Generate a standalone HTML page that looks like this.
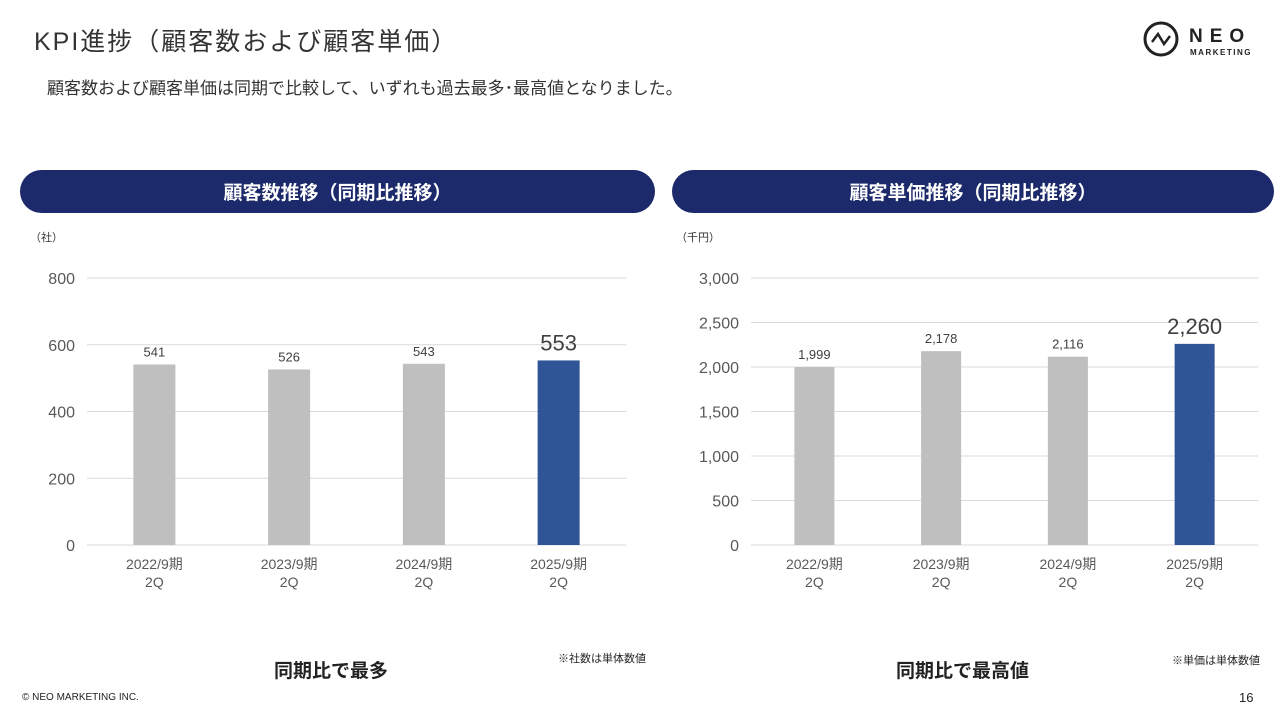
<!DOCTYPE html>
<html><head><meta charset="utf-8">
<style>
body{margin:0;width:1280px;height:720px;background:#fff;font-family:"Liberation Sans","Noto Sans CJK JP",sans-serif;position:relative;overflow:hidden;color:#333}
.abs{position:absolute}
.pill{position:absolute;height:43px;border-radius:22px;background:#1c2a6b;color:#fff;font-weight:bold;font-size:19px;display:flex;align-items:center;justify-content:center}
</style></head><body>
<div class="abs" style="left:34px;top:22px;font-size:25px;letter-spacing:2px;color:#333">KPI進捗（顧客数および顧客単価）</div>
<div class="abs" style="left:47px;top:74px;font-size:17px;color:#333">顧客数および顧客単価は同期で比較して、いずれも過去最多･最高値となりました。</div>
<svg class="abs" style="left:1140px;top:18px" width="120" height="44">
<circle cx="21" cy="21" r="16" fill="none" stroke="#222" stroke-width="3"/>
<polyline points="12,24 18,16 24,26 30,18" fill="none" stroke="#222" stroke-width="2.5"/>
<text x="49" y="24" font-size="19" font-weight="bold" letter-spacing="7" fill="#222" font-family="Liberation Sans">NEO</text>
<text x="50" y="37" font-size="8" font-weight="bold" letter-spacing="1.5" fill="#222" font-family="Liberation Sans">MARKETING</text>
</svg>
<div class="pill" style="left:20px;top:170px;width:635px">顧客数推移（同期比推移）</div>
<div class="pill" style="left:672px;top:170px;width:602px">顧客単価推移（同期比推移）</div>
<svg class="abs" id="chart" style="left:0;top:0" width="1280" height="720"></svg>
<div class="abs" style="left:274px;top:656px;font-size:19px;font-weight:bold;color:#222">同期比で最多</div>
<div class="abs" style="left:558px;top:650px;font-size:11px;color:#222">※社数は単体数値</div>
<div class="abs" style="left:896px;top:656px;font-size:19px;font-weight:bold;color:#222">同期比で最高値</div>
<div class="abs" style="left:1172px;top:652px;font-size:11px;color:#222">※単価は単体数値</div>
<div class="abs" style="left:22px;top:692px;font-size:10px;color:#222">© NEO MARKETING INC.</div>
<div class="abs" style="left:1239px;top:690px;font-size:13px;color:#222">16</div>
<script>
const categories=["2022/9期","2023/9期","2024/9期","2025/9期"];
const countValues=[541,526,543,553];
const priceValues=[1999,2178,2116,2260];
const countTicks=[0,200,400,600,800];
const priceTicks=[0,500,1000,1500,2000,2500,3000];
const svg=document.getElementById('chart');
const NS='http://www.w3.org/2000/svg';
function mk(t,a,txt){const e=document.createElementNS(NS,t);for(const k in a)e.setAttribute(k,a[k]);if(txt!==undefined)e.textContent=txt;svg.appendChild(e);return e;}
function draw(cfg){
 const y=v=>cfg.y0-(v/cfg.max)*(cfg.y0-cfg.y1);
 const step=(cfg.x1-cfg.x0)/categories.length;
 const x=i=>cfg.x0+step*(i+0.5);
 const u=mk('text',{x:cfg.ux,y:241,'font-size':11,fill:'#333'},cfg.unit);
 
 cfg.ticks.forEach(t=>{
  const l=mk('line',{x1:cfg.x0,x2:cfg.x1,y1:y(t),y2:y(t),stroke:'#d9d9d9','stroke-width':1});
  
  const tx=mk('text',{x:cfg.x0-12,y:y(t)+6,'text-anchor':'end','font-size':16,fill:'#595959'},t.toLocaleString('en-US'));
  
 });
 cfg.vals.forEach((v,i)=>{
  const last=i===cfg.vals.length-1;
  const r=mk('rect',{x:x(i)-cfg.bw/2,y:y(v),width:cfg.bw,height:cfg.y0-y(v),fill:last?'#2f5597':'#bfbfbf'});
  
  const lb=mk('text',{x:x(i),y:y(v)-(last?10:8),'text-anchor':'middle','font-size':last?22:13,fill:'#404040'},v.toLocaleString('en-US'));
  
  const c1=mk('text',{x:x(i),y:cfg.y0+24,'text-anchor':'middle','font-size':14,fill:'#595959'},categories[i]);
  
  const c2=mk('text',{x:x(i),y:cfg.y0+42,'text-anchor':'middle','font-size':14,fill:'#595959'},'2Q');
  
 });
}
draw({p:'count',x0:87,x1:626,y0:545,y1:278,max:800,ticks:countTicks,vals:countValues,bw:42,unit:'（社）',ux:30});
draw({p:'price',x0:751,x1:1258,y0:545,y1:278,max:3000,ticks:priceTicks,vals:priceValues,bw:40,unit:'（千円）',ux:676});
</script>
</body></html>
